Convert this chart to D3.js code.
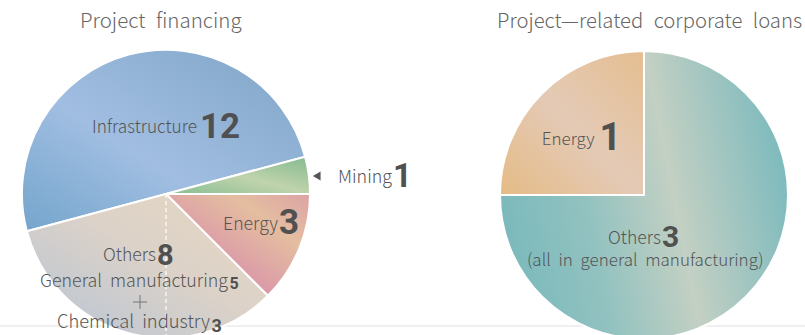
<!DOCTYPE html>
<html>
<head>
<meta charset="utf-8">
<script src="https://cdn.jsdelivr.net/npm/d3@7"></script>
<style>
  html, body { margin: 0; padding: 0; background: #fff; }
  svg { display: block; }
  .lbl { font-family: "Noto Sans CJK KR", "Noto Sans", sans-serif; font-weight: 300; fill: #555; word-spacing: 4px; }
  .num { font-family: Roboto, "Noto Sans", sans-serif; font-weight: 700; fill: #505050; }
  .ttl { font-family: "Noto Sans CJK KR", "Noto Sans", sans-serif; font-weight: 300; fill: #666; word-spacing: 6px; }
</style>
</head>
<body>
<svg id="chart" width="805" height="335"></svg>
<script>
// Project financing: deals by sector
const leftCategories = ["Infrastructure", "Mining", "Energy", "Others"];
const leftValues = [12, 1, 3, 8];
// Breakdown of the "Others" slice
const othersCategories = ["General manufacturing", "Chemical industry"];
const othersValues = [5, 3];

// Project-related corporate loans
const rightCategories = ["Others", "Energy"];
const rightValues = [3, 1];
const rightNote = "(all in general manufacturing)";

const titles = ["Project financing", "Project\u2014related corporate loans"];

const svg = d3.select("#chart");
const defs = svg.append("defs");

// baseline rule under both pies
svg.append("line")
  .attr("x1", 0).attr("x2", 805).attr("y1", 326).attr("y2", 326)
  .attr("stroke", "#e2e2e2").attr("stroke-width", 1.2);

function gradient(id, stops, dir) {
  const g = defs.append("linearGradient").attr("id", id)
    .attr("x1", dir[0]).attr("y1", dir[1]).attr("x2", dir[2]).attr("y2", dir[3]);
  stops.forEach(([o, c]) => g.append("stop").attr("offset", o).attr("stop-color", c));
}
const diag = [0, 1, 1, 0];
gradient("g-infra", [[0, "#74a5cc"], [0.42, "#a1bee2"], [1, "#7ea4c6"]], diag);
gradient("g-mining", [[0, "#86bd92"], [0.5, "#c0d3ab"], [1, "#84ba90"]], diag);
gradient("g-energy", [[0, "#d8859f"], [0.35, "#db98a8"], [0.72, "#e4bea0"], [1, "#dca2a5"]], diag);
gradient("g-others", [[0, "#b6c4d6"], [0.55, "#dcd2c8"], [1, "#e5d7c0"]], diag);
gradient("g-r-energy", [[0, "#e5bb86"], [0.5, "#e4cab6"], [1, "#e5be90"]], diag);
gradient("g-r-others", [[0, "#7bb9bc"], [0.3, "#92c2c0"], [0.6, "#c3d0c3"], [1, "#7cbabd"]], [0, 0.6, 1, 0.4]);

const deg = Math.PI / 180;

// ---- left pie ----
const L = { cx: 166, cy: 194, r: 144 };
const leftFills = ["url(#g-infra)", "url(#g-mining)", "url(#g-energy)", "url(#g-others)"];
const leftPie = d3.pie().sort(null).startAngle(-105 * deg).endAngle(255 * deg)(leftValues);
const arcL = d3.arc().innerRadius(0).outerRadius(L.r);
const gL = svg.append("g").attr("transform", `translate(${L.cx},${L.cy})`);
gL.selectAll("path").data(leftPie).join("path")
  .attr("d", arcL)
  .attr("fill", (d, i) => leftFills[i])
  .attr("stroke", "#fff").attr("stroke-width", 2).attr("stroke-linejoin", "round");

// dashed divider between chemical industry and general manufacturing
const oth = leftPie[3];
const othTotal = d3.sum(othersValues);
const splitAngle = oth.startAngle + (oth.endAngle - oth.startAngle) * othersValues[1] / othTotal;
gL.append("line")
  .attr("x1", 0).attr("y1", 0)
  .attr("x2", L.r * Math.sin(splitAngle)).attr("y2", -L.r * Math.cos(splitAngle))
  .attr("stroke", "#fff").attr("stroke-width", 1.2).attr("stroke-dasharray", "4,3");

// ---- right pie ----
const R = { cx: 644, cy: 195, r: 144 };
const rightFills = ["url(#g-r-others)", "url(#g-r-energy)"];
const rightPie = d3.pie().sort(null).startAngle(0).endAngle(2 * Math.PI)(rightValues);
const arcR = d3.arc().innerRadius(0).outerRadius(R.r);
const gR = svg.append("g").attr("transform", `translate(${R.cx},${R.cy})`);
gR.selectAll("path").data(rightPie).join("path")
  .attr("d", arcR)
  .attr("fill", (d, i) => rightFills[i])
  .attr("stroke", "#fff").attr("stroke-width", 2).attr("stroke-linejoin", "round");

// shrink a text's font size until it fits the given width
function fit(sel, maxSize, width) {
  sel.attr("font-size", maxSize);
  const w = sel.node().getComputedTextLength();
  if (w > width) sel.attr("font-size", (maxSize * width / w).toFixed(2));
  return sel;
}

// ---- titles ----
fit(svg.append("text").attr("class", "ttl").attr("x", 80).attr("y", 28).text(titles[0]), 20.5, 162);
fit(svg.append("text").attr("class", "ttl").attr("x", 497).attr("y", 28).text(titles[1]), 20.5, 305);

// ---- labels: a regular name followed by a bold count ----
function label(o) {
  if (o.text) {
    fit(svg.append("text").attr("class", "lbl")
      .attr("x", o.x).attr("y", o.y).text(o.text), o.size, o.w);
  }
  if (o.num != null) {
    svg.append("text").attr("class", "num")
      .attr("x", o.nx).attr("y", o.ny).attr("font-size", o.nsize)
      .text(o.num);
  }
}

label({ text: leftCategories[0], x: 92, y: 133, size: 20.5, w: 105,
        num: leftValues[0], nx: 200, ny: 138, nsize: 35 });
label({ text: leftCategories[1], x: 338, y: 183, size: 20, w: 54,
        num: leftValues[1], nx: 393, ny: 186.5, nsize: 33 });
label({ text: leftCategories[2], x: 223, y: 230, size: 20, w: 55,
        num: leftValues[2], nx: 279, ny: 234, nsize: 35 });
label({ text: leftCategories[3], x: 103, y: 260.5, size: 19, w: 53,
        num: leftValues[3], nx: 157, ny: 264.5, nsize: 29 });
label({ text: othersCategories[0], x: 40, y: 287, size: 18.5, w: 188,
        num: othersValues[0], nx: 229.5, ny: 288.8, nsize: 16 });
label({ text: othersCategories[1], x: 57, y: 327.7, size: 19, w: 153,
        num: othersValues[1], nx: 211.5, ny: 331.7, nsize: 18 });

// plus sign joining the two sub-sectors
svg.append("g").attr("stroke", "#777").attr("stroke-width", 1)
  .call(g => g.append("line").attr("x1", 133).attr("x2", 147).attr("y1", 302).attr("y2", 302))
  .call(g => g.append("line").attr("x1", 140).attr("x2", 140).attr("y1", 295).attr("y2", 309));

// pointer arrow for the thin mining slice
svg.append("path").attr("d", d3.symbol().type(d3.symbolTriangle).size(34))
  .attr("transform", "translate(318,176) rotate(-90)")
  .attr("fill", "#555");

label({ text: rightCategories[1], x: 541.7, y: 145, size: 18, w: 53,
        num: rightValues[1], nx: 599.5, ny: 150, nsize: 38 });
label({ text: rightCategories[0], x: 608, y: 244, size: 18, w: 53,
        num: rightValues[0], nx: 662, ny: 246.5, nsize: 30 });
label({ text: rightNote, x: 527, y: 266, size: 18, w: 236 });
</script>
</body>
</html>
